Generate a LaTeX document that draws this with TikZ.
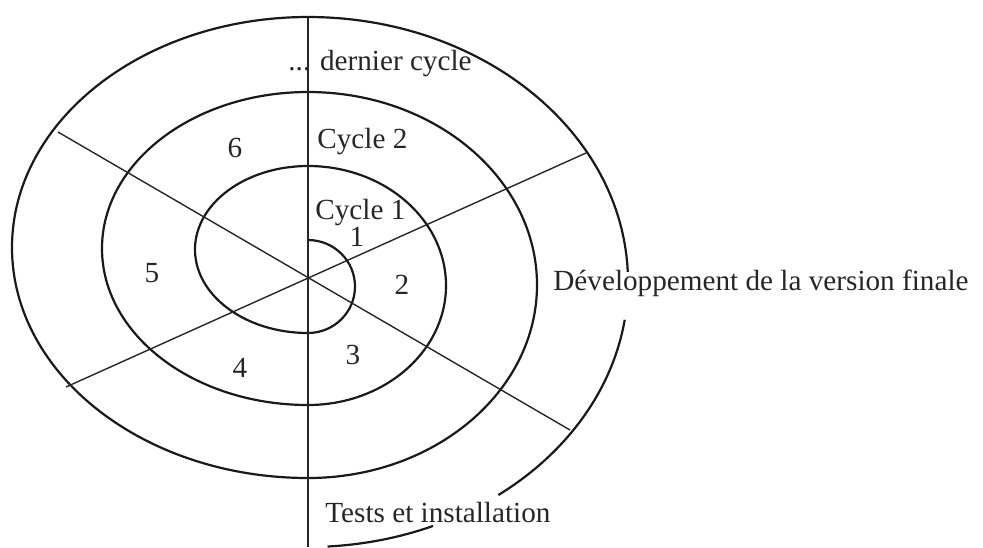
\documentclass[tikz,border=0pt]{standalone}
\usepackage{fontspec}
\setmainfont{Liberation Serif}

\begin{document}
\begin{tikzpicture}[x=0.5pt, y=-0.5pt,
  spire/.style={line width=1.1pt, black!90},
  rayon/.style={line width=0.7pt, black!85},
  etiq/.style={font=\fontsize{14.6}{17}\selectfont, text=black!85, inner sep=0pt}]
  \useasboundingbox (0,0) rectangle (983,547);

  % Draw the spiral, one half turn after the other
  \draw[spire] (308,240)
    arc[start angle=-90, end angle=90, x radius=47, y radius=46.5]
    arc[start angle=90, end angle=270, x radius=113, y radius=83.5]
    arc[start angle=-90, end angle=90, x radius=138, y radius=119.5]
    arc[start angle=90, end angle=270, x radius=206, y radius=156.5]
    arc[start angle=-90, end angle=90, x radius=229, y radius=193]
    arc[start angle=90, end angle=270, x radius=296, y radius=230.5];

  % Last half turn, broken for the labels
  \coordinate (fin) at (308,282);
  \draw[spire] (308,17) arc[start angle=-90, end angle=-2.2, x radius=320, y radius=265];
  \draw[spire] (fin) ++(8.2:320 and 265) arc[start angle=8.2, end angle=53.5, x radius=320, y radius=265];
  \draw[spire] (fin) ++(67:320 and 265) arc[start angle=67, end angle=86.5, x radius=320, y radius=265];

  % Phase separators
  \draw[rayon] (308,17) -- (308,547);
  \draw[rayon] (58,132) -- (570,430);
  \draw[rayon] (66,387) -- (586,153);

  % Labels
  \node[etiq, anchor=base west] (dernier) at (288,70) {... dernier cycle};
  \node[etiq, anchor=base west] (cycleB) at (317,148) {Cycle 2};
  \node[etiq, anchor=base west] (cycleA) at (315,219) {Cycle 1};
  \node[etiq] (ph1) at (357,237) {1};
  \node[etiq] (ph2) at (402,285) {2};
  \node[etiq] (ph3) at (353,355) {3};
  \node[etiq] (ph4) at (240,368) {4};
  \node[etiq] (ph5) at (152,273) {5};
  \node[etiq] (ph6) at (235,148) {6};
  \node[etiq, anchor=base west] (dev) at (553,290) {Développement de la version finale};
  \node[etiq, anchor=base west] (tests) at (325,522) {Tests et installation};
\end{tikzpicture}
\end{document}
